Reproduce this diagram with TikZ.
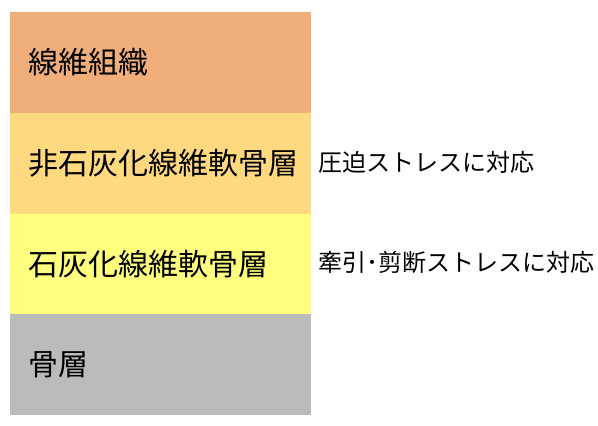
\documentclass[tikz,border=0pt]{standalone}
\usepackage{fontspec}
\setmainfont{Noto Sans CJK JP}
\definecolor{fibre}{HTML}{F0AE7B}
\definecolor{uncalc}{HTML}{FFD97F}
\definecolor{calc}{HTML}{FFFF7F}
\definecolor{bone}{HTML}{BBBBBB}
\tikzset{
  layer/.style={fill=#1, draw=none, anchor=north west, minimum width=301pt,
    minimum height=100.75pt, inner xsep=18pt, text width=265pt, align=left,
    font=\fontsize{30}{34}\selectfont},
  note/.style={anchor=west, inner sep=0pt, font=\fontsize{24}{28}\selectfont}
}
\begin{document}
\begin{tikzpicture}[x=1pt,y=-1pt]
    \useasboundingbox (0,0) rectangle (598,426);
    \node[layer=fibre]  (fibre)  at (10,12)     {線維組織};
    \node[layer=uncalc] (uncalc) at (10,112.75) {非石灰化線維軟骨層};
    \node[layer=calc]   (calc)   at (10,213.5)  {石灰化線維軟骨層};
    \node[layer=bone]   (bone)   at (10,314.25) {骨層};

    \node[note] (press)   at (318,162) {圧迫ストレスに対応};
    \node[note] (tension) at (318,262) {牽引･剪断ストレスに対応};
  \end{tikzpicture}
\end{document}
